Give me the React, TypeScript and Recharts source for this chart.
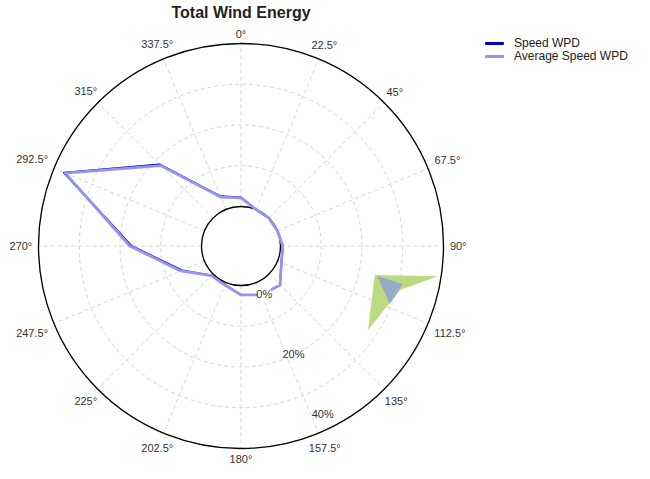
import React from "react";
import { Legend, PolarAngleAxis, PolarGrid, PolarRadiusAxis, Polygon, Radar, RadarChart } from "recharts";

// direction bins, degrees clockwise from north
const angles = [0, 22.5, 45, 67.5, 90, 112.5, 135, 157.5, 180, 202.5, 225, 247.5, 270, 292.5, 315, 337.5];
// share of total energy per bin (%)
const speedWpd = [2.2, 0, 0, 0, 0.55, 1.05, 3.85, 3.3, 2.3, 0.6, 0.5, 6.0, 17.2, 37.3, 18.6, 3.5];
const avgSpeedWpd = [2.1, 0, 0, 0, 0.55, 1.05, 3.85, 3.3, 2.3, 0.7, 0.6, 6.3, 17.6, 37.0, 18.2, 3.3];

// stray filled shape drawn near 100-120 degrees
const greenAngles = [102.2, 98.7, 105.5, 123.5];
const greenValues = [23.9, 39.2, 30.8, 27.7];
const steelAngles = [102.4, 103.2, 111.3];
const steelValues = [24.5, 31.1, 29.5];

const radiusTicks = [0, 10, 20, 30, 40];
const radiusLabels = [0, 20, 40];

const legendItems = [
  { name: "Speed WPD", color: "#0000c8" },
  { name: "Average Speed WPD", color: "#9595f0" },
];

const data = [
  ...angles.map((a, i) => ({ angle: a, speed: speedWpd[i], avg: avgSpeedWpd[i] })),
  ...greenAngles.map((a, i) => ({ angle: a, green: greenValues[i] })),
  ...steelAngles.map((a, i) => ({ angle: a, steel: steelValues[i] })),
];

const FONT = "'Liberation Sans', Arial, sans-serif";
const CX = 241;
const CY = 246;
const INNER = 39.5;
const OUTER = 202.5;

// only keep the points that belong to this series
const seriesShape = (key: string, stroke: string, strokeWidth: number, fill: string) => (props: any) => {
  const pts = (props.points || []).filter((p: any) => p.payload && p.payload[key] != null);
  return <Polygon points={pts} stroke={stroke} strokeWidth={strokeWidth} fill={fill} strokeLinejoin="round" />;
};

function AngleTick(props: any) {
  const { x, y, payload } = props;
  const th = (payload.value * Math.PI) / 180;
  const ux = Math.sin(th);
  const uy = -Math.cos(th);
  const label = `${payload.value}°`;
  const hw = label.length * 2.9;
  const d = 6 + hw * Math.abs(ux) + 4 * Math.abs(uy) - 8;
  return (
    <text
      x={x + d * ux}
      y={y + d * uy}
      textAnchor="middle"
      dominantBaseline="central"
      fontSize={11}
      fontFamily={FONT}
      fill="#333"
    >
      {label}
    </text>
  );
}

function RadiusTick(props: any) {
  const { x, y, payload } = props;
  const v = payload.value;
  if (!radiusLabels.includes(v)) return null;
  // labels sit a bit off the rings in the original
  const s = 13.5 - 0.7375 * v;
  const ux = Math.sin((154 * Math.PI) / 180);
  const uy = -Math.cos((154 * Math.PI) / 180);
  const tx = x + s * ux;
  const ty = y + s * uy;
  const label = `${v}%`;
  const w = label.length * 6.5;
  return (
    <g>
      <rect x={tx - w / 2} y={ty - 6} width={w} height={12} fill="#fff" />
      <text x={tx} y={ty} textAnchor="middle" dominantBaseline="central" fontSize={11} fontFamily={FONT} fill="#333">
        {label}
      </text>
    </g>
  );
}

function LegendBox() {
  return (
    <div style={{ fontFamily: FONT, fontSize: 12, color: "#222", lineHeight: "13px" }}>
      {legendItems.map((it) => (
        <div key={it.name} style={{ display: "flex", alignItems: "center", height: 13 }}>
          <span style={{ display: "inline-block", width: 19, height: 3, background: it.color, marginRight: 10, borderRadius: 1 }} />
          {it.name}
        </div>
      ))}
    </div>
  );
}

export default function App() {
  return (
    <div style={{ position: "absolute", left: 0, top: 0, width: 650, height: 479, background: "#fff" }}>
      <div
        style={{
          position: "absolute",
          left: 0,
          width: 482,
          top: 4,
          textAlign: "center",
          fontFamily: FONT,
          fontWeight: "bold",
          fontSize: 16,
          color: "#222",
        }}
      >
        Total Wind Energy
      </div>
      <RadarChart
        width={650}
        height={479}
        data={data}
        cx={CX}
        cy={CY}
        innerRadius={INNER}
        outerRadius={OUTER}
        startAngle={90}
        endAngle={-270}
        margin={{ top: 0, right: 0, bottom: 0, left: 0 }}
      >
        <PolarGrid gridType="circle" stroke="#d6d6d6" strokeDasharray="4 3" />
        <PolarGrid
          gridType="circle"
          radialLines={false}
          polarRadius={[INNER, OUTER]}
          stroke="#000"
          strokeWidth={1.3}
        />
        <PolarAngleAxis
          dataKey="angle"
          type="number"
          domain={[0, 360]}
          ticks={angles}
          axisLine={false}
          tickLine={false}
          tick={<AngleTick />}
        />
        <Radar
          name="green"
          dataKey="green"
          shape={seriesShape("green", "none", 0, "#bcdb80")}
          legendType="none"
          isAnimationActive={false}
        />
        <Radar
          name="steel"
          dataKey="steel"
          shape={seriesShape("steel", "none", 0, "#97abc7")}
          legendType="none"
          isAnimationActive={false}
        />
        <Radar
          name="Speed WPD"
          dataKey="speed"
          shape={seriesShape("speed", legendItems[0].color, 2, "none")}
          dot={false}
          isAnimationActive={false}
        />
        <Radar
          name="Average Speed WPD"
          dataKey="avg"
          shape={seriesShape("avg", legendItems[1].color, 2.8, "none")}
          dot={false}
          isAnimationActive={false}
        />
        <PolarRadiusAxis
          angle={-64}
          type="number"
          domain={[0, 40]}
          ticks={radiusTicks}
          axisLine={false}
          tickLine={false}
          tick={<RadiusTick />}
        />
        <Legend
          layout="vertical"
          verticalAlign="top"
          align="left"
          wrapperStyle={{ position: "absolute", top: 37, left: 485, width: 165 }}
          content={<LegendBox />}
        />
      </RadarChart>
    </div>
  );
}
